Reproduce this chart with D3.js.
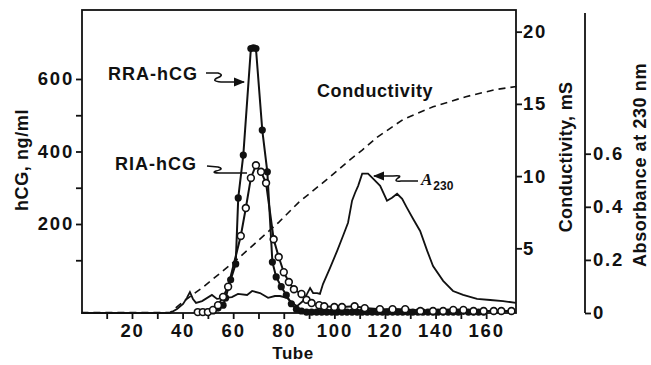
<!DOCTYPE html>
<meta charset="utf-8">
<head>
  <title>hCG elution profile</title>
</head>

<style>
body { margin: 0; background: #fff; }
text {
  font-family: "Liberation Sans", Arial, sans-serif;
  font-weight: bold;
  fill: #111;
}
.axis path, .axis line { stroke: #111; stroke-width: 1.8; }
.axis text { font-size: 18.5px; letter-spacing: 1.8px; }
</style>

<body>
  <svg width="651" height="365"></svg>

  <script src="https://cdnjs.cloudflare.com/ajax/libs/d3/7.8.5/d3.min.js"></script>
  <script>
// tick labels
var tubeTicks = [10, 20, 30, 40, 50, 60, 70, 80, 90, 100, 110, 120, 130, 140, 150, 160]
var hcgTicks = [100, 200, 300, 400, 500, 600]
var condTicks = [5, 10, 15, 20]
var absTicks = [0, 0.2, 0.4, 0.6]

// RRA-hCG (filled circles)
var rraTube = [50, 52, 54, 56, 57, 59, 61, 62, 64, 67, 68, 69, 71.5, 73.5, 75.5, 77, 79, 81, 83, 85, 87,
  89, 91, 93, 95, 97, 99, 101, 103, 105, 107, 109, 111, 113, 115, 117, 119, 121, 123, 125, 127, 129, 131, 133, 135, 137, 139, 141, 143, 145, 147, 149, 151, 153, 155, 157, 159]
var rraHcg = [-43, -40, -32, -24, -4, 46, 90, 272, 390, 684, 686, 684, 459, 344, 95, 54, 27, 4, -20, -35, -40,
  -43, -43, -43, -43, -43, -43, -43, -43, -43, -43, -43, -43, -43, -43, -43, -43, -43, -43, -43, -43, -43, -43, -43, -43, -43, -43, -43, -43, -43, -43, -43, -41, -43, -43, -43, -43]

// RIA-hCG (open circles)
var riaTube = [46, 48, 50, 52, 54, 56, 58, 63, 65, 67, 69, 71, 73, 76, 78, 80, 82, 84, 87, 89, 91, 94, 96, 100, 103, 108, 112, 118, 123, 128, 134, 139, 143, 147, 151, 155, 159, 163, 166, 170]
var riaHcg = [-43, -43, -43, -37, -24, -1, 27, 167, 244, 327, 362, 344, 313, 158, 109, 67, 40, 20, 7, -9, -18, -24, -27, -29, -29, -27, -32, -35, -35, -35, -40, -40, -40, -37, -37, -40, -40, -40, -40, -40]

// A230
var a230Tube = [0, 35, 37.8, 40.2, 41.7, 42.9, 44.1, 45.3, 47.7, 51.6, 53.6, 56.8, 59.5, 61.9, 65.5, 67.5, 70.6, 73.8, 76.5, 78.5, 81.3, 83.3, 85.2, 87.6, 89.2, 90.4, 91.6, 93.2, 94.3, 95.5, 98.3, 101.1, 103.4, 105.4, 107, 108.2, 109.4, 111, 113.3, 115.3, 118.1, 120.8, 122.8, 124.8, 126.8, 128.7, 131.1, 133.9, 136.7, 139, 143, 146.9, 150.9, 156.4, 161.6, 166.7, 171.8]
var a230Abs = [0, 0, 0.015, 0.034, 0.057, 0.079, 0.053, 0.038, 0.045, 0.068, 0.053, 0.057, 0.06, 0.072, 0.068, 0.083, 0.075, 0.057, 0.064, 0.064, 0.057, 0.038, 0.026, 0.045, 0.072, 0.094, 0.075, 0.075, 0.072, 0.109, 0.17, 0.234, 0.29, 0.34, 0.423, 0.453, 0.479, 0.525, 0.525, 0.506, 0.479, 0.423, 0.434, 0.449, 0.43, 0.396, 0.355, 0.309, 0.234, 0.177, 0.121, 0.083, 0.068, 0.053, 0.049, 0.045, 0.038]

// conductivity (dashed)
var condTube = [0, 35, 41, 48, 62, 78, 86, 98, 106, 111, 117, 127, 139, 152, 164, 172]
var condMs = [0.55, 0.55, 1.4, 2.3, 4.3, 6.8, 8.2, 9.9, 11.1, 11.8, 12.7, 13.9, 14.8, 15.5, 16.0, 16.2]

var svg = d3.select('svg')

var x = d3.scaleLinear().domain([0, 171.8]).range([81.4, 516])
var yH = d3.scaleLinear().domain([-45.5, 790.3]).range([313, 10])
var yC = d3.scaleLinear().domain([0.52, 21.5]).range([313, 10])
var yA = d3.scaleLinear().domain([0, 1.13]).range([313, 13])

var pts = function(xs, ys) {
  return xs.map(function(d, i) { return [d, ys[i]] })
}
var rra = pts(rraTube, rraHcg)
var ria = pts(riaTube, riaHcg)
var a230 = pts(a230Tube, a230Abs)
var cond = pts(condTube, condMs)

// axes
svg.append('g').attr('class', 'axis')
  .attr('transform', 'translate(82,0)')
  .call(d3.axisLeft(yH).tickValues(hcgTicks).tickSize(6).tickSizeOuter(0).tickPadding(2)
    .tickFormat(function(d) { return d % 200 == 0 ? d : '' }))

svg.append('g').attr('class', 'axis')
  .attr('transform', 'translate(0,313)')
  .call(d3.axisBottom(x).tickValues(tubeTicks).tickSize(6).tickSizeOuter(0).tickPadding(5)
    .tickFormat(function(d) { return d % 20 == 0 ? d : '' }))

svg.append('g').attr('class', 'axis')
  .attr('transform', 'translate(516,0)')
  .call(d3.axisRight(yC).tickValues(condTicks).tickSize(6).tickSizeOuter(0).tickPadding(1))

svg.append('g').attr('class', 'axis')
  .attr('transform', 'translate(585,0)')
  .call(d3.axisRight(yA).tickValues(absTicks).tickSize(6).tickSizeOuter(0).tickPadding(2)
    .tickFormat(function(d) { return d == 0 ? '0' : d3.format('.1f')(d) }))

svg.selectAll('.axis .domain').remove()

// abs axis line
svg.append('line')
  .attr('x1', 585).attr('x2', 585).attr('y1', yA(1.13)).attr('y2', yA(0))
  .attr('stroke', '#111').attr('stroke-width', 1.8)

// frame
svg.append('rect')
  .attr('x', 82).attr('y', 10).attr('width', 434).attr('height', 303)
  .attr('fill', 'none').attr('stroke', '#111').attr('stroke-width', 1.8)

// curves
svg.append('path')
  .attr('d', d3.line().x(function(d) { return x(d[0]) }).y(function(d) { return yA(d[1]) })(a230))
  .attr('fill', 'none').attr('stroke', '#111').attr('stroke-width', 1.8)

svg.append('path')
  .attr('d', d3.line().x(function(d) { return x(d[0]) }).y(function(d) { return yC(d[1]) })(cond))
  .attr('fill', 'none').attr('stroke', '#111').attr('stroke-width', 1.6)
  .attr('stroke-dasharray', '7,5')

var hLine = d3.line().x(function(d) { return x(d[0]) }).y(function(d) { return yH(d[1]) })

svg.append('path').attr('d', hLine(rra))
  .attr('fill', 'none').attr('stroke', '#111').attr('stroke-width', 2)
svg.append('path').attr('d', hLine(ria))
  .attr('fill', 'none').attr('stroke', '#111').attr('stroke-width', 2)

svg.selectAll('circle.rra')
  .data(rra).enter().append('circle')
  .attr('class', 'rra')
  .attr('cx', function(d) { return x(d[0]) })
  .attr('cy', function(d) { return yH(d[1]) })
  .attr('r', 3.6)
  .attr('fill', '#111')

svg.selectAll('circle.ria')
  .data(ria).enter().append('circle')
  .attr('class', 'ria')
  .attr('cx', function(d) { return x(d[0]) })
  .attr('cy', function(d) { return yH(d[1]) })
  .attr('r', 3.4)
  .attr('fill', '#fff').attr('stroke', '#111').attr('stroke-width', 1.6)

// axis titles
svg.append('text')
  .attr('transform', 'translate(28,160) rotate(-90)')
  .attr('text-anchor', 'middle').style('font-size', '18px').style('letter-spacing', '0.6px')
  .text('hCG, ng/ml')

svg.append('text')
  .attr('transform', 'translate(572,157) rotate(-90)')
  .attr('text-anchor', 'middle').style('font-size', '18px').style('letter-spacing', '0.3px')
  .text('Conductivity, mS')

svg.append('text')
  .attr('transform', 'translate(646,165) rotate(-90)')
  .attr('text-anchor', 'middle').style('font-size', '18px').style('letter-spacing', '0.6px')
  .text('Absorbance at 230 nm')

svg.append('text')
  .attr('x', 293).attr('y', 359)
  .attr('text-anchor', 'middle').style('font-size', '17px').style('letter-spacing', '0.5px')
  .text('Tube')

// in-plot labels
svg.append('text')
  .attr('x', 108).attr('y', 80).style('font-size', '18px').style('letter-spacing', '1px')
  .text('RRA-hCG')

svg.append('text')
  .attr('x', 115).attr('y', 170).style('font-size', '18px').style('letter-spacing', '1px')
  .text('RIA-hCG')

svg.append('text')
  .attr('x', 317).attr('y', 97).style('font-size', '18px').style('letter-spacing', '0.6px')
  .text('Conductivity')

var lab = svg.append('text').attr('x', 421).attr('y', 185)
lab.append('tspan')
  .style('font-family', '"Liberation Serif", serif').style('font-style', 'italic')
  .style('font-size', '17px').text('A')
lab.append('tspan').attr('dy', 5).attr('dx', 1).style('font-size', '12px').text('230')

// squiggle pointers
svg.append('defs').append('marker')
  .attr('id', 'head').attr('viewBox', '0 0 10 10').attr('refX', 9).attr('refY', 5)
  .attr('markerWidth', 7).attr('markerHeight', 7).attr('orient', 'auto-start-reverse')
  .append('path').attr('d', 'M0,1L10,5L0,9z').attr('fill', '#111')

var arrows = [
  { d: 'M206,73 L218,73 Q225,75 217,78 Q211,81 221,82 L244,82', head: true },
  { d: 'M207,166 L218,167 Q225,169 216,171 Q211,173 220,173 L247,173', head: false },
  { d: 'M418,181 L401,181 Q393,182 398,178 Q403,175 393,176 L374,176', head: true }
]
svg.selectAll('path.arrow')
  .data(arrows).enter().append('path')
  .attr('class', 'arrow')
  .attr('d', function(d) { return d.d })
  .attr('fill', 'none').attr('stroke', '#111').attr('stroke-width', 1.6)
  .attr('marker-end', function(d) { return d.head ? 'url(#head)' : null })
  </script>
</body>
</html>
